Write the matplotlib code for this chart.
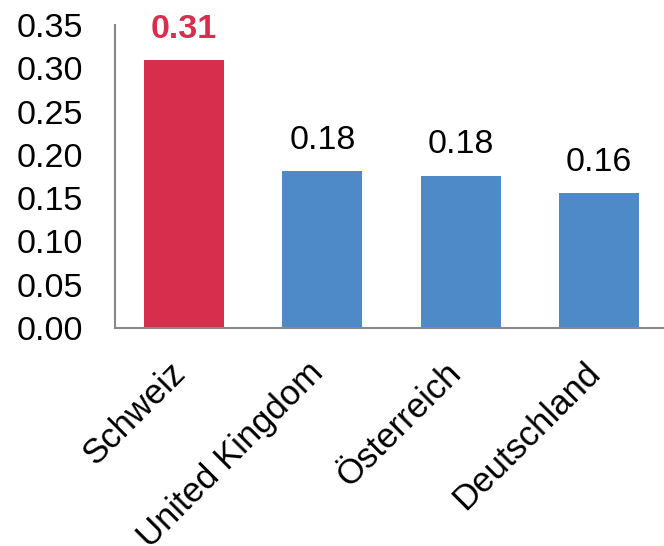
import matplotlib
matplotlib.use("Agg")
import matplotlib.pyplot as plt
from matplotlib.transforms import ScaledTranslation

plt.rcParams['font.family'] = ['Liberation Sans', 'DejaVu Sans']

countries = ["Schweiz", "United Kingdom", "Österreich", "Deutschland"]
values = [0.309, 0.181, 0.176, 0.156]
colors = ["#D62E4C", "#4E8AC8", "#4E8AC8", "#4E8AC8"]
label_colors = ["#D62E4C", "black", "black", "black"]
label_weights = ["bold", "normal", "normal", "normal"]
yticks = [0.00, 0.05, 0.10, 0.15, 0.20, 0.25, 0.30, 0.35]

fig = plt.figure(figsize=(6.64, 5.46), dpi=100)
ax = fig.add_axes([115 / 664, 1 - 328 / 546, 553 / 664, 303 / 546])

x = range(len(countries))
ax.bar(x, values, width=0.58, color=colors, zorder=2)

for xi, v, c, w in zip(x, values, label_colors, label_weights):
    ax.annotate(f"{v:.2f}", (xi, v), xytext=(0, 11), textcoords="offset points",
                ha="center", va="bottom", fontsize=24.5, color=c, fontweight=w)

ax.set_xlim(-0.5, 3.5)
ax.set_ylim(0, 0.35)
ax.set_yticks(yticks)
ax.set_yticklabels([f"{t:.2f}" for t in yticks])
ax.tick_params(axis="y", length=0, pad=23, labelsize=24.5)
ax.set_xticks(list(x))
ax.set_xticklabels(countries, rotation=45, ha="right", va="top",
                   rotation_mode="anchor", fontsize=25)
ax.tick_params(axis="x", length=0, pad=20)
shift = ScaledTranslation(-16 / 100, 0, fig.dpi_scale_trans)
for lbl in ax.get_xticklabels():
    lbl.set_transform(lbl.get_transform() + shift)

for s in ["top", "right"]:
    ax.spines[s].set_visible(False)
for s in ["left", "bottom"]:
    ax.spines[s].set_color("#888888")
    ax.spines[s].set_linewidth(1.5)

fig.savefig("out.png", dpi=100)
